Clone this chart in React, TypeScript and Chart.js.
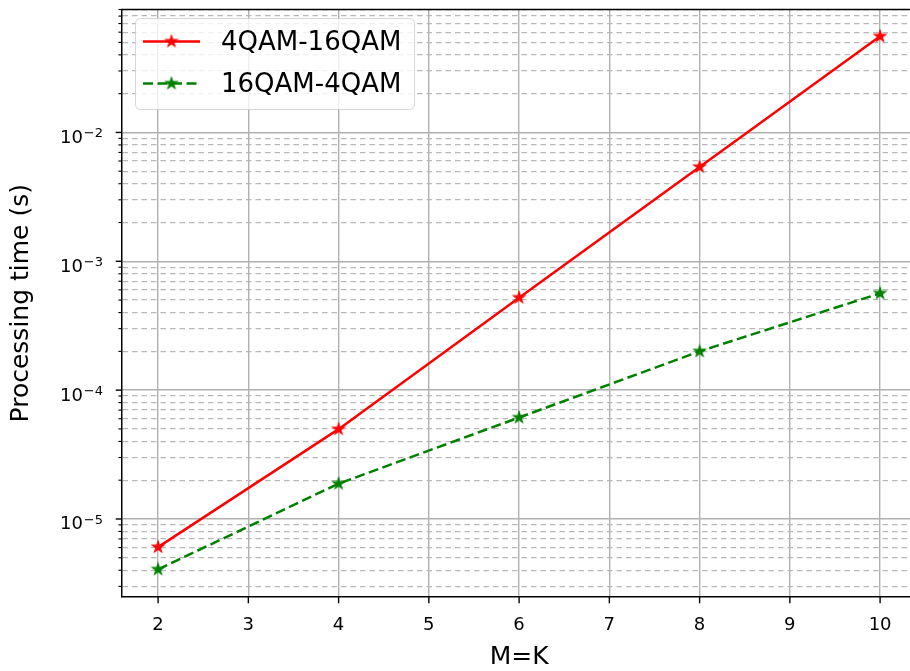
import { useEffect, useRef } from 'react';
import { Chart, registerables } from 'chart.js';

Chart.register(...registerables);

// ---- data ----
const mkValues = [2, 4, 6, 8, 10];
const qam4to16 = [6.05e-6, 4.98e-5, 5.22e-4, 5.4e-3, 5.57e-2];
const qam16to4 = [4.06e-6, 1.88e-5, 6.13e-5, 2.0e-4, 5.64e-4];
const seriesLabels = ['4QAM-16QAM', '16QAM-4QAM'];
const seriesColors = ['#ff0000', '#008000'];
const xTickValues = [2, 3, 4, 5, 6, 7, 8, 9, 10];
const yDecadeExponents = [-6, -5, -4, -3, -2, -1];
const yLabelExponents = [-5, -4, -3, -2];
const xTitle = 'M=K';
const yTitle = 'Processing time (s)';
const X_MIN = 1.6;
const X_MAX = 10.4;
const Y_MIN = 2.48e-6;
const Y_MAX = 0.09;

const FONT = '"DejaVu Sans", sans-serif';
const CANVAS_W = 930; // axes extend slightly past the 910px figure edge, as in the reference

function makeStar(color: string): HTMLCanvasElement {
  const s = 16;
  const c = document.createElement('canvas');
  c.width = s;
  c.height = s;
  const g = c.getContext('2d')!;
  const cx = s / 2, cy = s / 2, R = 5.9, r = R * 0.382;
  g.beginPath();
  for (let i = 0; i < 10; i++) {
    const a = -Math.PI / 2 + (i * Math.PI) / 5;
    const rr = i % 2 === 0 ? R : r;
    const px = cx + rr * Math.cos(a);
    const py = cy + rr * Math.sin(a);
    if (i === 0) g.moveTo(px, py);
    else g.lineTo(px, py);
  }
  g.closePath();
  g.fillStyle = color;
  g.fill();
  g.strokeStyle = color;
  g.lineWidth = 1.2;
  g.stroke();
  return c;
}

export default function App() {
  const ref = useRef<HTMLCanvasElement>(null);

  useEffect(() => {
    const stars = seriesColors.map(makeStar);

    const overlay = {
      id: 'overlay',
      afterDraw(chart: any) {
        const ctx: CanvasRenderingContext2D = chart.ctx;
        const { left, right, top, bottom } = chart.chartArea;
        const xs = chart.scales.x;
        const ys = chart.scales.y;
        ctx.save();
        // top spine
        ctx.strokeStyle = '#000';
        ctx.lineWidth = 1.5;
        ctx.setLineDash([]);
        ctx.beginPath();
        ctx.moveTo(left - 0.75, top);
        ctx.lineTo(right, top);
        ctx.stroke();
        // y tick marks
        ys.ticks.forEach((t: any) => {
          const py = ys.getPixelForValue(t.value);
          const len = t.major ? 6.3 : 3.6;
          ctx.lineWidth = t.major ? 1.4 : 1.1;
          ctx.beginPath();
          ctx.moveTo(left - len, py);
          ctx.lineTo(left, py);
          ctx.stroke();
        });
        // x tick marks
        ctx.lineWidth = 1.4;
        xs.ticks.forEach((t: any) => {
          const px = xs.getPixelForValue(t.value);
          ctx.beginPath();
          ctx.moveTo(px, bottom);
          ctx.lineTo(px, bottom + 6.3);
          ctx.stroke();
        });
        // y tick labels 10^k
        ctx.fillStyle = '#000';
        ctx.textAlign = 'left';
        ctx.textBaseline = 'alphabetic';
        yLabelExponents.forEach((e) => {
          const py = ys.getPixelForValue(Math.pow(10, e));
          const sup = '\u2212' + String(-e);
          ctx.font = `13px ${FONT}`;
          const supW = ctx.measureText(sup).width;
          ctx.font = `18px ${FONT}`;
          const baseW = ctx.measureText('10').width;
          const endX = 103;
          const supX = endX - supW;
          const baseX = supX - 1 - baseW;
          ctx.fillText('10', baseX, py + 10.5);
          ctx.font = `13px ${FONT}`;
          ctx.fillText(sup, supX, py + 4.7);
        });
        // x title
        ctx.font = `25px ${FONT}`;
        ctx.textAlign = 'center';
        ctx.fillText(xTitle, (left + right) / 2, 664);
        // y title
        ctx.save();
        ctx.translate(28, (top + bottom) / 2);
        ctx.rotate(-Math.PI / 2);
        ctx.textAlign = 'center';
        ctx.fillText(yTitle, 0, 0);
        ctx.restore();
        // legend
        const lx = 135.5, ly = 18.5, lw = 279, lh = 91;
        ctx.beginPath();
        (ctx as any).roundRect(lx, ly, lw, lh, 5);
        ctx.fillStyle = 'rgba(255,255,255,0.8)';
        ctx.fill();
        ctx.strokeStyle = 'rgba(204,204,204,0.8)';
        ctx.lineWidth = 1;
        ctx.stroke();
        const rows = [41.5, 83.5];
        seriesLabels.forEach((lab, i) => {
          const y = rows[i];
          ctx.strokeStyle = seriesColors[i];
          ctx.lineWidth = 2.6;
          ctx.setLineDash(i === 1 ? [10, 4.5] : []);
          ctx.beginPath();
          ctx.moveTo(143, y);
          ctx.lineTo(200, y);
          ctx.stroke();
          ctx.setLineDash([]);
          const st = stars[i];
          ctx.drawImage(st, 171.5 - st.width / 2, y - st.height / 2);
          ctx.fillStyle = '#000';
          ctx.font = `26px ${FONT}`;
          ctx.textAlign = 'left';
          ctx.fillText(lab, 221, y + 8);
        });
        ctx.restore();
      },
    };

    const chart = new Chart(ref.current!, {
      type: 'line',
      data: {
        datasets: [
          {
            label: seriesLabels[0],
            data: mkValues.map((x, i) => ({ x, y: qam4to16[i] })),
            borderColor: seriesColors[0],
            backgroundColor: seriesColors[0],
            borderWidth: 2.5,
            pointStyle: stars[0] as any,
            pointRadius: 7,
            tension: 0,
            fill: false,
          },
          {
            label: seriesLabels[1],
            data: mkValues.map((x, i) => ({ x, y: qam16to4[i] })),
            borderColor: seriesColors[1],
            backgroundColor: seriesColors[1],
            borderWidth: 2.5,
            borderDash: [10, 4.5],
            pointStyle: stars[1] as any,
            pointRadius: 7,
            tension: 0,
            fill: false,
          },
        ],
      },
      options: {
        animation: false,
        responsive: false,
        devicePixelRatio: 1,
        events: [],
        layout: { padding: { top: 5, right: CANVAS_W - 916.2, left: 0, bottom: 0 } },
        plugins: {
          legend: { display: false },
          tooltip: { enabled: false },
        },
        scales: {
          x: {
            type: 'linear',
            min: X_MIN,
            max: X_MAX,
            afterBuildTicks: (scale: any) => {
              scale.ticks = xTickValues.map((v) => ({ value: v }));
            },
            afterFit: (scale: any) => {
              scale.height = 74;
            },
            grid: { color: '#b0b0b0', lineWidth: 1.4, drawTicks: false },
            border: { display: true, color: '#000', width: 1.5 },
            ticks: {
              font: { family: FONT, size: 18 },
              color: '#000',
              padding: 18,
              maxRotation: 0,
              autoSkip: false,
              callback: (v: any) => String(v),
            },
          },
          y: {
            type: 'logarithmic',
            min: Y_MIN,
            max: Y_MAX,
            afterBuildTicks: (scale: any) => {
              const t: any[] = [];
              yDecadeExponents.forEach((e) => {
                for (let m = 1; m <= 9; m++) {
                  const v = m * Math.pow(10, e);
                  if (v >= Y_MIN && v <= Y_MAX) t.push({ value: v, major: m === 1 });
                }
              });
              scale.ticks = t;
            },
            afterFit: (scale: any) => {
              scale.width = 122;
            },
            grid: {
              color: (c: any) => (c.tick && c.tick.major ? '#b0b0b0' : '#b8b8b8'),
              lineWidth: (c: any) => (c.tick && c.tick.major ? 1.4 : 1.2),
              drawTicks: false,
            },
            border: {
              display: true,
              color: '#000',
              width: 1.5,
              dash: (c: any) => (c.tick && !c.tick.major ? [5.5, 4] : []),
            },
            ticks: { display: false },
          },
        },
      },
      plugins: [overlay],
    } as any);
    return () => chart.destroy();
  }, []);

  return (
    <div
      style={{
        position: 'absolute',
        left: 0,
        top: 0,
        width: 910,
        height: 671,
        overflow: 'hidden',
        background: '#fff',
      }}
    >
      <canvas
        ref={ref}
        width={CANVAS_W}
        height={671}
        style={{ display: 'block', width: CANVAS_W, height: 671 }}
      />
    </div>
  );
}
